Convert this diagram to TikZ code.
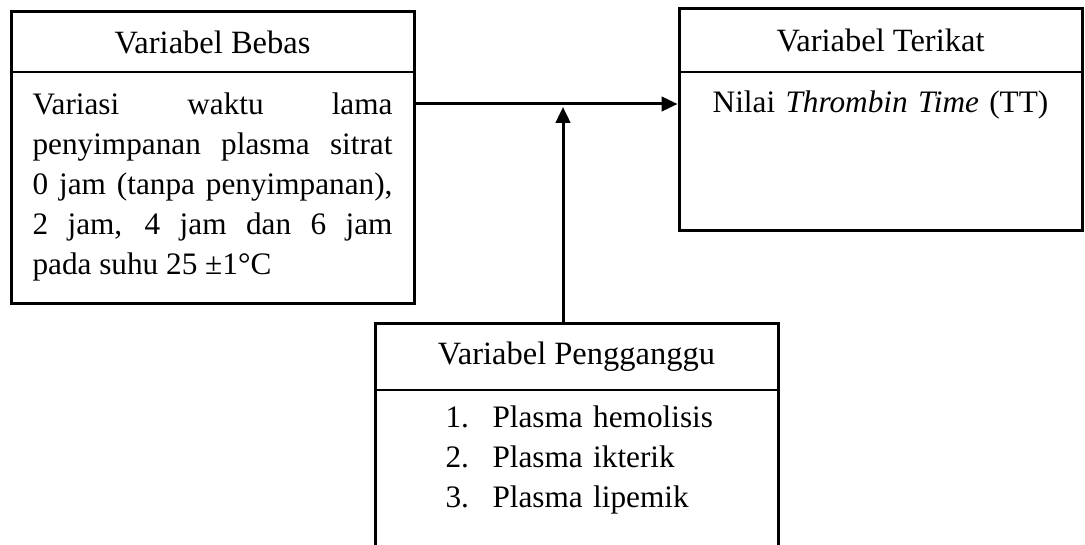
\documentclass[tikz,border=0pt]{standalone}
\usepackage{fontspec}
\setmainfont{Liberation Serif}
\usetikzlibrary{arrows.meta, positioning, fit}

\begin{document}
\begin{tikzpicture}[
    x=0.4pt, y=-0.4pt,
    varhead/.style={rectangle, minimum width=160.8pt, minimum height=24pt, inner sep=0pt, text centered, font={\fontsize{13}{16}\selectfont}},
    vartext/.style={rectangle, text width=144pt, inner xsep=8.4pt, inner ysep=8pt, align=justify, font={\fontsize{12.5}{16}\selectfont}},
    varframe/.style={rectangle, draw=black, line width=1.2pt, inner sep=0pt},
    divider/.style={draw=black, line width=0.5pt},
    arrow/.style={line width=1.2pt, -{Triangle[length=6.4pt, width=5.8pt]}}
]
\useasboundingbox (0,0) rectangle (1085,545);
\clip (0,0) rectangle (1085,545);
\node (lhead) [varhead, minimum height=23.6pt, anchor=north west] at (11,12) {Variabel Bebas};
\node (ltext) [vartext, below=0pt of lhead] {Variasi waktu lama\linebreak penyimpanan plasma sitrat\linebreak 0 jam (tanpa penyimpanan),\linebreak 2 jam, 4 jam dan 6 jam\linebreak pada suhu 25 ±1°C};
\coordinate (lfoot) at (414,303);
\node (lframe) [varframe, fit=(lhead)(lfoot)] {};
\node (rhead) [varhead, minimum height=24.8pt, anchor=north west] at (679,9) {Variabel Terikat};
\node (rtext) [vartext, align=center, inner ysep=7.2pt, below=0pt of rhead] {Nilai \textit{Thrombin Time} (TT)};
\coordinate (rfoot) at (1080,231);
\node (rframe) [varframe, fit=(rhead)(rfoot)] {};
\node (phead) [varhead, minimum height=26.4pt, anchor=north west] at (375,323) {Variabel Pengganggu};
\node (ptext) [vartext, align=left, inner xsep=28pt, inner ysep=6pt, below right=0pt of phead.south west] {\makebox[18.8pt][l]{1.}Plasma hemolisis\\ \makebox[18.8pt][l]{2.}Plasma ikterik\\ \makebox[18.8pt][l]{3.}Plasma lipemik};
\coordinate (pfoot) at (777,580);
\node (pframe) [varframe, fit=(phead)(pfoot)] {};
\draw [divider] (lhead.south west) -- (lhead.south east);
\draw [divider] (rhead.south west) -- (rhead.south east);
\draw [divider] (phead.south west) -- (phead.south east);
\coordinate (join) at (563,104);
\draw [arrow] (lframe.east |- join) -- (rframe.west |- join);
\draw [arrow, shorten >=1.2pt] (pframe.north -| join) -- (join);
\end{tikzpicture}
\end{document}
